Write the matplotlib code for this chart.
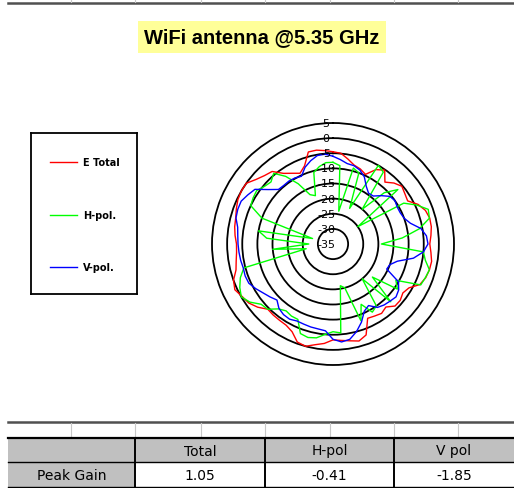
import numpy as np
import matplotlib
matplotlib.use("Agg")
import matplotlib.pyplot as plt
from matplotlib.patches import Rectangle
from matplotlib.lines import Line2D

W, H = 514, 489

# radiation pattern, dB, one value every 5 degrees starting at 0 (top), clockwise
angles_deg = np.arange(0, 360, 5)

e_total = [-4.5, -4.9, -6.5, -8.0, -8.6, -9.6, -6.6, -5.2, -8.3, -6.5, -5.3, -6.0,
           -6.5, -4.0, -2.5, -1.9, -2.0, -2.5, -3.0, -2.5, -1.9, -2.0, -2.4, -3.3,
           -6.0, -6.8, -6.0, -6.0, -7.8, -7.0, -7.5, -7.9, -3.0, -1.8, -2.5, -3.0,
           -3.3, -2.0, -1.2, 0.0, -0.5, -3.0, -4.0, -4.2, -4.3, -4.5, -2.5, -1.0,
           -0.3, 0.8, 0.0, -1.8, -2.5, -3.0, -3.1, -2.5, -2.0, -1.7, -1.0, -0.3,
           0.0, 0.0, -1.8, -3.0, -3.7, -6.5, -8.0, -9.2, -7.5, -3.5, -3.5, -4.0]

h_pol = [-8.0, -9.0, -24.0, -9.0, -10.0, -22.0, -5.0, -6.0, -20.0, -11.0, -7.0, -25.0,
         -8.0, -4.5, -1.5, -2.0, -6.0, -12.0, -19.0, -5.0, -4.0, -2.0, -2.5, -3.0,
         -11.0, -9.0, -18.0, -8.0, -20.0, -10.0, -9.0, -13.0, -8.0, -20.0, -21.0, -5.5,
         -6.0, -5.0, -3.5, -3.0, -3.5, -7.5, -7.5, -8.0, -7.0, -4.5, -4.0, -1.5,
         0.0, -1.0, -2.4, -4.5, -26.0, -15.0, -27.0, -13.0, -10.0, -28.0, -10.0, -5.0,
         -4.5, -4.2, -5.4, -6.0, -4.5, -7.7, -12.0, -17.0, -18.0, -10.5, -9.0, -8.0]

v_pol = [-6.0, -7.0, -8.0, -8.2, -9.0, -10.5, -13.0, -14.5, -14.3, -12.4, -10.5, -10.0,
         -10.5, -10.5, -10.0, -8.5, -5.5, -4.0, -3.6, -5.0, -8.0, -13.0, -15.0, -15.4,
         -10.0, -8.5, -7.8, -8.3, -8.7, -9.4, -11.5, -10.5, -7.5, -5.0, -3.0, -2.5,
         -3.5, -6.2, -6.5, -6.6, -6.8, -6.9, -6.3, -6.5, -7.2, -8.8, -7.8, -6.8,
         -5.5, -4.3, -4.1, -4.3, -4.0, -3.8, -3.6, -3.4, -3.0, -1.8, -1.5, -1.5,
         -2.5, -3.5, -7.0, -9.5, -9.7, -9.6, -9.8, -10.3, -8.0, -6.5, -5.3, -5.2]

series_names = ["E Total", "H-pol.", "V-pol."]
series_colors = ["#ff0000", "#00ff00", "#0000ff"]

r_ticks = [5, 0, -5, -10, -15, -20, -25, -30, -35]

table_cols = ["Total", "H-pol", "V pol"]
peak_gain = ["1.05", "-0.41", "-1.85"]

fig = plt.figure(figsize=(W / 100, H / 100), dpi=100)
fig.patch.set_facecolor("white")


def fx(px):
    return px / W


def fy(py):
    return 1 - py / H


# spreadsheet remnants: dark rule at the top with faint column ticks
bg = fig.add_axes([0, 0, 1, 1])
bg.set_xlim(0, W)
bg.set_ylim(H, 0)
bg.axis("off")
bg.plot([8, W], [4, 4], color="#505050", lw=1.8)
for x in [71, 135, 201, 265, 330, 394, 458]:
    bg.plot([x, x], [1, 3], color="#c8c8c8", lw=0.8)

# title with yellow highlight
fig.text(fx(262), fy(38), "WiFi antenna @5.35 GHz", ha="center", va="center",
         fontsize=14.5, fontweight="bold", family="Liberation Sans",
         bbox=dict(boxstyle="square,pad=0.3", facecolor="#ffff99", edgecolor="none"))

# polar plot
cx, cy, R = 333, 245, 121
ax = fig.add_axes([fx(cx - R), fy(cy + R), 2 * R / W, 2 * R / H], projection="polar")
ax.set_theta_zero_location("N")
ax.set_theta_direction(-1)
ax.set_ylim(-35, 5)
ax.set_xticks([])
ax.set_yticks([-30, -25, -20, -15, -10, -5, 0])
ax.set_yticklabels([])
ax.yaxis.grid(True, color="black", lw=1.3)
ax.xaxis.grid(False)
ax.spines["polar"].set_color("black")
ax.spines["polar"].set_linewidth(1.3)
ax.set_facecolor("none")

theta = np.deg2rad(np.append(angles_deg, 360))
for vals, name, col in zip([e_total, h_pol, v_pol], series_names, series_colors):
    ax.plot(theta, np.append(vals, vals[0]), color=col, lw=1.0, label=name)

for v in r_ticks:
    ax.annotate(str(v), xy=(0, v), xytext=(-5, 0), textcoords="offset points",
                ha="center", va="center", fontsize=8, color="black",
                annotation_clip=False)

# legend box
lg = fig.add_axes([fx(31), fy(295), fx(137) - fx(31), fy(134) - fy(295)])
lg.set_xlim(0, 106)
lg.set_ylim(161, 0)
lg.set_xticks([])
lg.set_yticks([])
for s in lg.spines.values():
    s.set_linewidth(1.3)
    s.set_color("black")
for i, (name, col) in enumerate(zip(series_names, series_colors)):
    yy = 29 + i * 52.5
    lg.add_line(Line2D([19, 46], [yy, yy], color=col, lw=1.0))
    lg.text(52, yy, name, ha="left", va="center", fontsize=7, fontweight="bold")

# peak gain table
col_x = [8, 135, 265, 394, 530]

# faint empty spreadsheet row
bg.plot([8, W], [423, 423], color="#505050", lw=1.8)
for x in [71, 135, 201, 265, 330, 394, 458]:
    bg.plot([x, x], [424, 439], color="#c8c8c8", lw=0.8)

bg.add_patch(Rectangle((8, 439), W, 24, facecolor="#c0c0c0", edgecolor="none"))
bg.add_patch(Rectangle((8, 463), 127, 25, facecolor="#c0c0c0", edgecolor="none"))
bg.plot([8, W], [439, 439], color="black", lw=1.6)
bg.plot([8, W], [463, 463], color="black", lw=1.0)
bg.plot([8, W], [488, 488], color="black", lw=1.0)
for x in col_x[1:4]:
    bg.plot([x, x], [439, 488], color="black", lw=1.4)

for i, name in enumerate(table_cols):
    xm = (col_x[i + 1] + min(col_x[i + 2], W)) / 2
    bg.text(xm, 451.5, name, ha="center", va="center", fontsize=10)
    bg.text(xm, 475.5, peak_gain[i], ha="center", va="center", fontsize=10)
bg.text((col_x[0] + col_x[1]) / 2, 475.5, "Peak Gain", ha="center", va="center", fontsize=10)

fig.savefig("out.png", dpi=100)
